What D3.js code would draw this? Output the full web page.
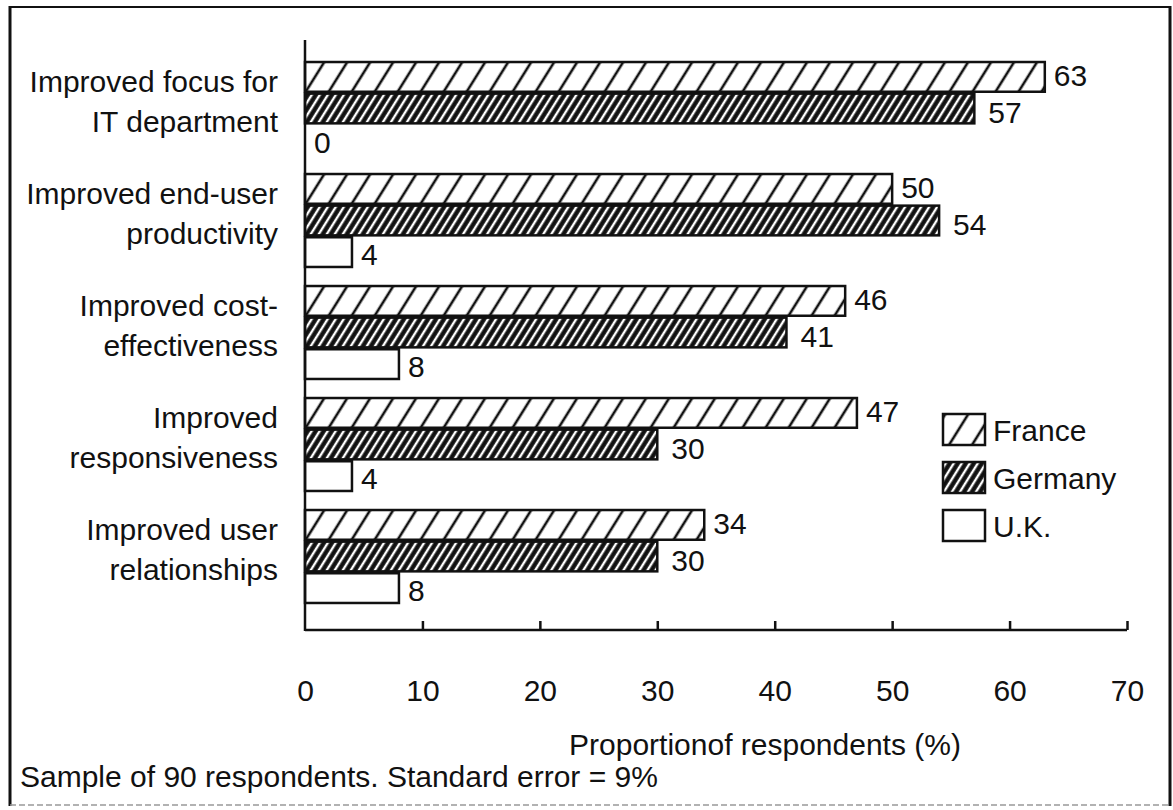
<!DOCTYPE html>
<html>
<head>
<meta charset="utf-8">
<script src="https://cdn.jsdelivr.net/npm/d3@7"></script>
<style>
  html, body { margin: 0; padding: 0; background: #fff; }
  svg { display: block; }
  text { font-family: "Liberation Sans", Arial, Helvetica, sans-serif; fill: #111; }
</style>
</head>
<body>
<svg id="chart" width="1173" height="810"></svg>
<script>
// ---- data ----
const categories = [
  ["Improved focus for", "IT department"],
  ["Improved end-user", "productivity"],
  ["Improved cost-", "effectiveness"],
  ["Improved", "responsiveness"],
  ["Improved user", "relationships"]
];
const seriesNames = ["France", "Germany", "U.K."];
const franceValues = [63, 50, 46, 47, 34];
const germanyValues = [57, 54, 41, 30, 30];
const ukValues = [0, 4, 8, 4, 8];
const tickValues = [0, 10, 20, 30, 40, 50, 60, 70];
const axisTitle = "Proportionof respondents (%)";
const footnote = "Sample of 90 respondents. Standard error = 9%";

const seriesValues = [franceValues, germanyValues, ukValues];
const FS = 30;

const svg = d3.select("#chart");
const W = 1173, H = 810;
svg.append("rect").attr("width", W).attr("height", H).attr("fill", "#fff");

// ---- patterns ----
const defs = svg.append("defs");
const pf = defs.append("pattern").attr("id", "pat-france")
  .attr("patternUnits", "userSpaceOnUse").attr("width", 19.5).attr("height", 10)
  .attr("patternTransform", "rotate(32)");
pf.append("rect").attr("width", 19.5).attr("height", 10).attr("fill", "#fff");
pf.append("line").attr("x1", 2).attr("x2", 2).attr("y1", 0).attr("y2", 10)
  .attr("stroke", "#111").attr("stroke-width", 2.6);

const pg = defs.append("pattern").attr("id", "pat-germany")
  .attr("patternUnits", "userSpaceOnUse").attr("width", 6.8).attr("height", 10)
  .attr("patternTransform", "rotate(32)");
pg.append("rect").attr("width", 6.8).attr("height", 10).attr("fill", "#111");
pg.append("line").attr("x1", 3).attr("x2", 3).attr("y1", 0).attr("y2", 10)
  .attr("stroke", "#fff").attr("stroke-width", 2.4);

const fills = ["url(#pat-france)", "url(#pat-germany)", "#fff"];

// ---- scales ----
const axisY = 630;
const x = d3.scaleLinear().domain([0, 70]).range([305, 1127]);
const y = d3.scaleBand().domain(d3.range(categories.length))
  .range([52.5, 612.5]).paddingInner(0.17).paddingOuter(0.085);
const ys = d3.scaleBand().domain(d3.range(seriesNames.length))
  .range([0, y.bandwidth()]).paddingInner(0.06);

// ---- frame ----
svg.append("line").attr("x1", 10).attr("x2", 1170).attr("y1", 7).attr("y2", 7)
  .attr("stroke", "#111").attr("stroke-width", 2);
svg.append("line").attr("x1", 10).attr("x2", 10).attr("y1", 6).attr("y2", 806)
  .attr("stroke", "#111").attr("stroke-width", 3);
svg.append("line").attr("x1", 1170).attr("x2", 1170).attr("y1", 6).attr("y2", 806)
  .attr("stroke", "#111").attr("stroke-width", 3);
svg.append("line").attr("x1", 10).attr("x2", 1170).attr("y1", 805).attr("y2", 805)
  .attr("stroke", "#999").attr("stroke-width", 1.5).attr("stroke-dasharray", "6 3");

// ---- bars ----
const groups = svg.append("g").selectAll("g").data(categories).join("g")
  .attr("transform", (d, i) => `translate(0,${y(i)})`);

groups.each(function (cat, ci) {
  const g = d3.select(this);
  seriesValues.forEach((vals, si) => {
    const v = vals[ci];
    if (v > 0) {
      g.append("rect")
        .attr("x", x(0)).attr("y", ys(si))
        .attr("width", x(v) - x(0)).attr("height", ys.bandwidth())
        .attr("fill", fills[si]).attr("stroke", "#111").attr("stroke-width", 2.5);
    }
    g.append("text")
      .attr("x", x(v) + (si === 1 ? 14 : 9))
      .attr("y", ys(si) + ys.bandwidth() / 2 + (si === 1 ? 4 : (si === 0 ? -2 : 2)))
      .attr("dy", "0.36em")
      .attr("font-size", FS)
      .text(v);
  });
});

// ---- category labels ----
const labels = svg.append("g").selectAll("text").data(categories).join("text")
  .attr("text-anchor", "end")
  .attr("font-size", FS)
  .attr("x", 278)
  .attr("y", (d, i) => y(i) + y.bandwidth() / 2 - 17);
labels.each(function (lines) {
  const t = d3.select(this);
  lines.forEach((ln, k) => {
    t.append("tspan").attr("x", 278).attr("dy", k === 0 ? 0 : 40).text(ln);
  });
});

// ---- axes ----
svg.append("line").attr("x1", x(0)).attr("x2", x(0)).attr("y1", 40).attr("y2", axisY + 1)
  .attr("stroke", "#111").attr("stroke-width", 2.5);

const xAxis = d3.axisBottom(x).tickValues(tickValues).tickSize(-9).tickPadding(0).tickFormat(d3.format("d"));
const ax = svg.append("g").attr("transform", `translate(0,${axisY})`).call(xAxis);
ax.select(".domain").attr("stroke", "#111").attr("stroke-width", 2.5)
  .attr("d", `M${x(0)},0H${x(70)}`);
ax.selectAll(".tick line").attr("stroke", "#111").attr("stroke-width", 2.5)
  .filter(d => d === 0).remove();
ax.selectAll(".tick text").attr("font-size", FS).attr("fill", "#111")
  .attr("y", 71).attr("dy", 0)
  .style("font-family", "'Liberation Sans', Arial, Helvetica, sans-serif");

svg.append("text").attr("x", 765).attr("y", 755).attr("text-anchor", "middle")
  .attr("font-size", FS).text(axisTitle);

// ---- legend ----
const legend = svg.append("g").selectAll("g").data(seriesNames).join("g")
  .attr("transform", (d, i) => `translate(943,${414 + i * 48})`);
legend.append("rect").attr("width", 42).attr("height", 31)
  .attr("fill", (d, i) => fills[i]).attr("stroke", "#111").attr("stroke-width", 2.5);
legend.append("text").attr("x", 50).attr("y", 16).attr("dy", "0.36em")
  .attr("font-size", FS).text(d => d);

// ---- footnote ----
svg.append("text").attr("x", 20).attr("y", 787).attr("font-size", FS).text(footnote);
</script>
</body>
</html>
